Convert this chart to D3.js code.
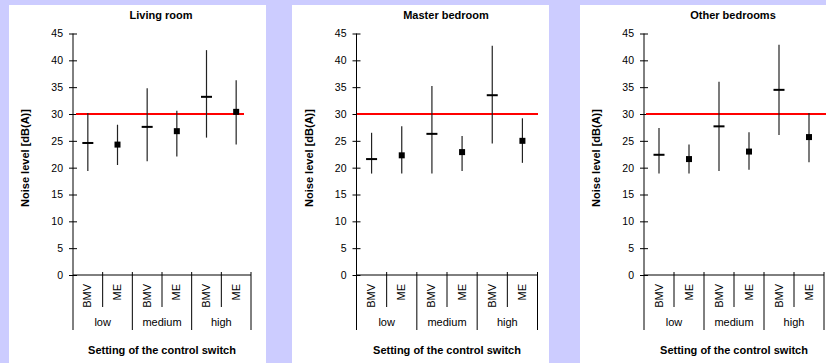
<!DOCTYPE html>
<html><head><meta charset="utf-8">
<script src="https://cdn.jsdelivr.net/npm/d3@7/dist/d3.min.js"></script>
<style>
html,body{margin:0;padding:0;background:#ccccff;}
svg{display:block;font-family:"Liberation Sans",Arial,sans-serif;}
</style></head>
<body><svg id="c" width="826" height="363"></svg>
<script>
const groups = ["low", "medium", "high"];
const subs = ["BMV", "ME"];
const yTicks = [0, 5, 10, 15, 20, 25, 30, 35, 40, 45];
const threshold = 30;
const titles = ["Living room", "Master bedroom", "Other bedrooms"];

const livingMean = [24.6, 24.3, 27.6, 26.8, 33.2, 30.4];
const livingHigh = [30.2, 28.0, 34.8, 30.6, 41.9, 36.3];
const livingLow  = [19.4, 20.5, 21.2, 22.1, 25.6, 24.3];

const masterMean = [21.6, 22.3, 26.3, 22.9, 33.5, 25.0];
const masterHigh = [26.5, 27.7, 35.2, 25.9, 42.7, 29.2];
const masterLow  = [18.9, 18.9, 18.9, 19.4, 24.5, 20.9];

const otherMean = [22.4, 21.6, 27.7, 23.0, 34.5, 25.7];
const otherHigh = [27.4, 24.3, 36.0, 26.6, 42.9, 30.2];
const otherLow  = [18.9, 18.9, 19.4, 19.6, 26.1, 21.0];

const seriesMean = [livingMean, masterMean, otherMean];
const seriesHigh = [livingHigh, masterHigh, otherHigh];
const seriesLow  = [livingLow, masterLow, otherLow];

// layout
const layout = [
  {left: 9,   right: 266, ax0: 73,    ax1: 251,   red0: 76,  red1: 244},
  {left: 292, right: 549, ax0: 356.5, ax1: 537.5, red0: 357, red1: 538},
  {left: 580, right: 826, ax0: 644,   ax1: 824,   red0: 646, red1: 826}
];
const panelTop = 5, y0px = 275, y45px = 33.5;

const svg = d3.select("#c");
svg.append("rect").attr("width", 826).attr("height", 363).attr("fill", "#ccccff");

const cats = [];
groups.forEach(g => subs.forEach(s => cats.push(g + "|" + s)));

layout.forEach((L, pi) => {
  svg.append("rect").attr("x", L.left).attr("y", panelTop)
    .attr("width", L.right - L.left).attr("height", 363 - panelTop).attr("fill", "#fff");

  const y = d3.scaleLinear().domain([0, 45]).range([y0px, y45px]);
  const x = d3.scaleBand().domain(cats).range([L.ax0, L.ax1]);
  const xg = d3.scaleBand().domain(groups).range([L.ax0, L.ax1]);
  const g = svg.append("g");

  // title
  g.append("text").attr("x", (L.ax0 + L.ax1) / 2 - 1).attr("y", 19)
    .attr("text-anchor", "middle").attr("font-size", 11).attr("font-weight", "bold")
    .text(titles[pi]);

  // y axis
  const yAxis = d3.axisLeft(y).tickValues(yTicks).tickSize(4).tickPadding(6);
  const ya = g.append("g").attr("transform", `translate(${L.ax0},0)`).call(yAxis);
  ya.select(".domain").remove();
  ya.selectAll(".tick line").attr("x1", 4).attr("x2", -4).attr("stroke", "#000");
  ya.selectAll("text").attr("font-size", 10.5).attr("font-family", "Liberation Sans, Arial, sans-serif").attr("fill", "#000");
  g.append("line").attr("x1", L.ax0).attr("x2", L.ax0).attr("y1", y(45)).attr("y2", 330).attr("stroke", "#000");

  // y title
  g.append("text").attr("transform", `translate(${L.ax0 - 44},${158}) rotate(-90)`)
    .attr("text-anchor", "middle").attr("font-size", 11).attr("font-weight", "bold")
    .text("Noise level [dB(A)]");

  // x axis line
  g.append("line").attr("x1", L.ax0).attr("x2", L.ax1).attr("y1", y0px).attr("y2", y0px).attr("stroke", "#000");
  // separators
  cats.forEach((c, i) => {
    const xr = x(c) + x.bandwidth();
    const isGroupEnd = (i % 2 === 1);
    g.append("line").attr("x1", xr).attr("x2", xr).attr("y1", y0px - 3)
      .attr("y2", isGroupEnd ? 330 : 307).attr("stroke", "#000");
    g.append("text")
      .attr("transform", `translate(${x(c) + x.bandwidth() / 2 + 3.5},284) rotate(-90)`)
      .attr("text-anchor", "end").attr("font-size", 11)
      .text(c.split("|")[1]);
  });
  groups.forEach(gr => {
    g.append("text").attr("x", xg(gr) + xg.bandwidth() / 2).attr("y", 326)
      .attr("text-anchor", "middle").attr("font-size", 11).text(gr);
  });
  g.append("text").attr("x", (L.ax0 + L.ax1) / 2).attr("y", 354)
    .attr("text-anchor", "middle").attr("font-size", 11).attr("font-weight", "bold")
    .text("Setting of the control switch");

  // red threshold
  g.append("line").attr("x1", L.red0).attr("x2", L.red1).attr("y1", y(threshold)).attr("y2", y(threshold))
    .attr("stroke", "#ff0000").attr("stroke-width", 2);

  // error bars + markers
  cats.forEach((c, i) => {
    const cx = x(c) + x.bandwidth() / 2;
    g.append("line").attr("x1", cx).attr("x2", cx)
      .attr("y1", y(seriesHigh[pi][i])).attr("y2", y(seriesLow[pi][i]))
      .attr("stroke", "#222").attr("stroke-width", 1.2);
    const m = y(seriesMean[pi][i]);
    if (i % 2 === 0) {
      g.append("rect").attr("x", cx - 5.5).attr("y", m - 1).attr("width", 11).attr("height", 2).attr("fill", "#000");
    } else {
      g.append("rect").attr("x", cx - 3).attr("y", m - 3).attr("width", 6).attr("height", 6).attr("fill", "#000");
    }
  });
});
</script></body></html>
